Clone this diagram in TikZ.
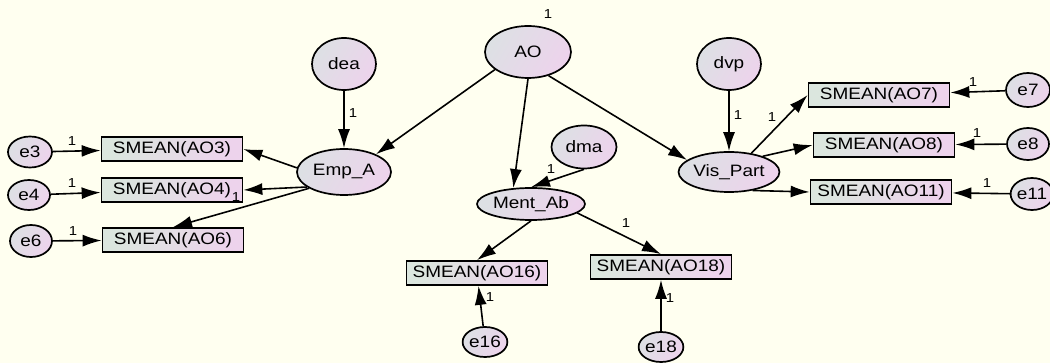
\documentclass[tikz,border=0pt]{standalone}
\usepackage{fontspec}
\setmainfont[FakeStretch=1.15]{Liberation Sans}
\usetikzlibrary{shapes.geometric,arrows.meta}

\definecolor{paper}{RGB}{255,255,240}
\definecolor{lgray}{RGB}{221,224,228}
\definecolor{lpink}{RGB}{237,211,236}
\definecolor{lgreen}{RGB}{219,230,222}

\newcommand\SM[1]{SMEAN(AO#1)}

\begin{document}
\begin{tikzpicture}[x=1pt,y=-1pt,
        font=\fontsize{16.5}{18}\selectfont,
        latent/.style={ellipse,draw,line width=1.7pt,inner sep=0pt,
            left color=lgray,right color=lpink,shading angle=60},
        obsbox/.style={rectangle,draw,line width=1.7pt,inner sep=0pt,
            minimum width=141,minimum height=24,
            left color=lgreen,right color=lpink,shading angle=70},
        arr/.style={-{Latex[length=19pt,width=12pt]},line width=1.6pt},
        one/.style={font=\fontsize{13}{14}\selectfont,inner sep=0pt}]
        \path[use as bounding box,fill=paper] (0,0) rectangle (1050,363);
        \node[latent,minimum width=86,minimum height=52] (ao) at (528,52) {AO};
        \node[latent,minimum width=64,minimum height=52] (dea) at (344,64) {dea};
        \node[latent,minimum width=64,minimum height=52] (dvp) at (729,64) {dvp};
        \node[latent,minimum width=65,minimum height=43] (dma) at (584,147) {dma};
        \node[latent,minimum width=94,minimum height=46] (empa) at (344,172) {Emp\_A};
        \node[latent,minimum width=108,minimum height=32] (mentab) at (531,204) {Ment\_Ab};
        \node[latent,minimum width=94,minimum height=40] (vispart) at (729,172) {Vis\_Part};
        \node[obsbox] (ao3) at (172,149) {\SM{3}};
        \node[obsbox] (ao4) at (172,190) {\SM{4}};
        \node[obsbox] (ao6) at (173,240) {\SM{6}};
        \node[obsbox] (ao7) at (879,95) {\SM{7}};
        \node[obsbox] (ao8) at (884,145) {\SM{8}};
        \node[obsbox] (ao11) at (881,192) {\SM{11}};
        \node[obsbox] (ao16) at (477,273) {\SM{16}};
        \node[obsbox] (ao18) at (661,267) {\SM{18}};
        \node[latent,minimum width=44,minimum height=31] (e3) at (30,152) {e3};
        \node[latent,minimum width=42,minimum height=30] (e4) at (29,195) {e4};
        \node[latent,minimum width=42,minimum height=32] (e6) at (31,241) {e6};
        \node[latent,minimum width=44,minimum height=34] (e7) at (1028,90) {e7};
        \node[latent,minimum width=42,minimum height=32] (e8) at (1028,144) {e8};
        \node[latent,minimum width=42,minimum height=32] (e11) at (1032,194) {e11};
        \node[latent,minimum width=44,minimum height=30] (e16) at (485,342) {e16};
        \node[latent,minimum width=44,minimum height=30] (e18) at (661,347) {e18};
        \draw[arr] (ao.-152) -- (empa.29);
        \draw[arr] (ao.south) -- (mentab.138);
        \draw[arr] (ao.-49) -- (vispart.164);
        \draw[arr] (dea) -- (empa);
        \draw[arr] (dvp) -- (vispart);
        \draw[arr] (dma.south) -- (mentab.north);
        \draw[arr] (empa.175) -- (ao3.east);
        \draw[arr] (empa.-158) -- (ao4.east);
        \draw[arr] (empa.-155) -- (ao6.north);
        \draw[arr] (mentab.south) -- (ao16.north);
        \draw[arr] (mentab.-11) -- (ao18.north);
        \draw[arr] (vispart.40) -- (ao7.west);
        \draw[arr] (vispart.25) -- (ao8.west);
        \draw[arr] (vispart.-38) -- (ao11.west);
        \draw[arr] (e3) -- (ao3);
        \draw[arr] (e4) -- (ao4);
        \draw[arr] (e6) -- (ao6);
        \draw[arr] (e7) -- (ao7);
        \draw[arr] (e8) -- (ao8);
        \draw[arr] (e11) -- (ao11);
        \draw[arr] (e16) -- (ao16);
        \draw[arr] (e18) -- (ao18);
        \node[one] (w-ao) at (548,14) {1};
        \node[one] (w-dea) at (353,113) {1};
        \node[one] (w-dvp) at (738,115) {1};
        \node[one] (w-dma) at (551,169) {1};
        \node[one] (w-ao7) at (772,117) {1};
        \node[one] (w-ao18) at (626,223) {1};
        \node[one] (w-ao4) at (236,197) {1};
        \node[one] (w-e3) at (72,141) {1};
        \node[one] (w-e4) at (72,183) {1};
        \node[one] (w-e6) at (73,231) {1};
        \node[one] (w-e7) at (973,82) {1};
        \node[one] (w-e8) at (977,133) {1};
        \node[one] (w-e11) at (987,183) {1};
        \node[one] (w-e16) at (490,297) {1};
        \node[one] (w-e18) at (670,298) {1};
    \end{tikzpicture}
\end{document}
